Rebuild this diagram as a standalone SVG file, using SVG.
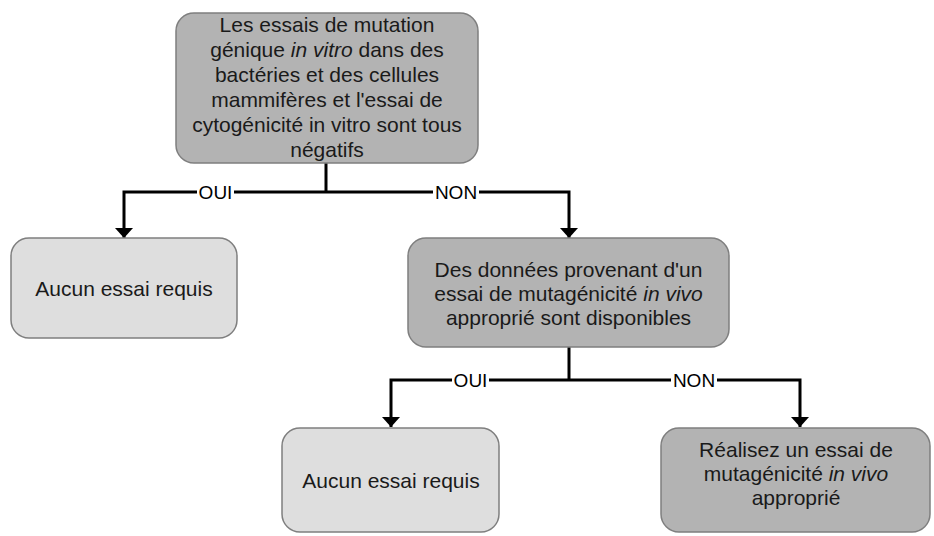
<svg xmlns="http://www.w3.org/2000/svg" width="934" height="536" viewBox="0 0 934 536">
  <defs>
    <!-- arrowhead drawn along +x, rotated to follow the line -->
    <marker id="arrow" viewBox="0 0 10 18" refX="10" refY="9" markerWidth="10" markerHeight="18" markerUnits="userSpaceOnUse" orient="auto">
      <path d="M0,0 L10,9 L0,18 Z" fill="#000"/>
    </marker>
    <style>
      .box { stroke: #7f7f7f; stroke-width: 1.5; }
      .dark { fill: #b3b3b3; }
      .light { fill: #dedede; }
      .txt { font-family: "Liberation Sans", Arial, sans-serif; font-size: 21px; fill: #1a1a1a; text-anchor: middle; }
      .lbl { font-family: "Liberation Sans", Arial, sans-serif; font-size: 19px; fill: #000; text-anchor: middle; }
      .wire { fill: none; stroke: #000; stroke-width: 3; }
      .em { font-style: italic; }
    </style>
  </defs>
  <rect width="934" height="536" fill="#fff"/>

  <!-- connectors -->
  <g id="connectors">
    <!-- first decision -->
    <path class="wire" d="M326,163 V192"/>
    <path class="wire" d="M197,192 H124 V238" marker-end="url(#arrow)"/>
    <path class="wire" d="M234,192 H433"/>
    <path class="wire" d="M479,192 H569 V238" marker-end="url(#arrow)"/>
    <text class="lbl" x="215.5" y="199">OUI</text>
    <text class="lbl" x="456" y="199">NON</text>
    <!-- second decision -->
    <path class="wire" d="M569,347 V380"/>
    <path class="wire" d="M452,380 H391 V427" marker-end="url(#arrow)"/>
    <path class="wire" d="M489,380 H671"/>
    <path class="wire" d="M717,380 H800 V427" marker-end="url(#arrow)"/>
    <text class="lbl" x="470.5" y="387">OUI</text>
    <text class="lbl" x="694" y="387">NON</text>
  </g>

  <g id="node-tests-negatifs">
    <rect class="box dark" x="176" y="13" width="302" height="150" rx="18"/>
    <text class="txt" x="327" y="32">Les essais de mutation</text>
    <text class="txt" x="327" y="57">génique <tspan class="em">in vitro</tspan> dans des</text>
    <text class="txt" x="327" y="82">bactéries et des cellules</text>
    <text class="txt" x="327" y="107">mammifères et l'essai de</text>
    <text class="txt" x="327" y="132">cytogénicité in vitro sont tous</text>
    <text class="txt" x="327" y="157">négatifs</text>
  </g>

  <g id="node-aucun-1">
    <rect class="box light" x="11" y="238" width="226" height="100" rx="18"/>
    <text class="txt" x="124" y="296">Aucun essai requis</text>
  </g>

  <g id="node-donnees-in-vivo">
    <rect class="box dark" x="408" y="238" width="321" height="109" rx="18"/>
    <text class="txt" x="568.5" y="277">Des données provenant d'un</text>
    <text class="txt" x="568.5" y="301">essai de mutagénicité <tspan class="em">in vivo</tspan></text>
    <text class="txt" x="568.5" y="325">approprié sont disponibles</text>
  </g>

  <g id="node-aucun-2">
    <rect class="box light" x="282" y="428" width="217" height="104" rx="18"/>
    <text class="txt" x="391" y="488">Aucun essai requis</text>
  </g>

  <g id="node-realisez">
    <rect class="box dark" x="661" y="428" width="269" height="104" rx="18"/>
    <text class="txt" x="796" y="457">Réalisez un essai de</text>
    <text class="txt" x="796" y="481">mutagénicité <tspan class="em">in vivo</tspan></text>
    <text class="txt" x="796" y="505">approprié</text>
  </g>
</svg>
